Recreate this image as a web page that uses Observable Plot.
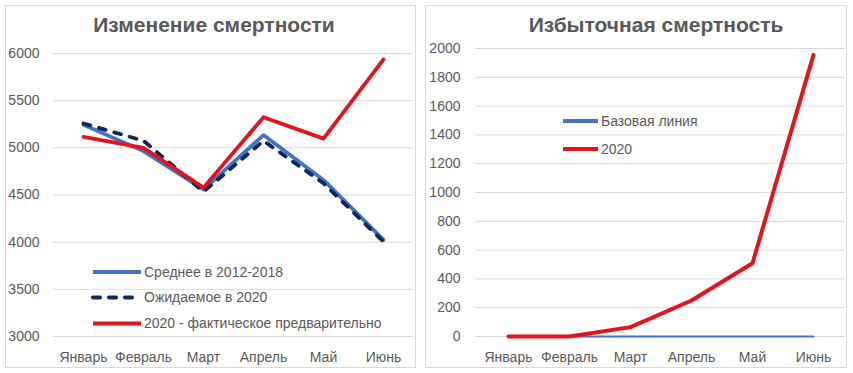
<!DOCTYPE html>
<html>
<head>
<meta charset="utf-8">
<script src="https://cdn.jsdelivr.net/npm/d3@7"></script>
<script src="https://cdn.jsdelivr.net/npm/@observablehq/plot@0.6"></script>
<style>
  html, body { margin: 0; padding: 0; background: #fff; }
  body { font-family: "Liberation Sans", Arial, sans-serif; }
  #wrap { position: relative; width: 853px; height: 373px; overflow: hidden; }
  .panel { position: absolute; top: 5px; height: 361px; border: 1px solid #d9d9d9; background: #fff; }
  .panel > svg { position: absolute; left: 0; top: 0; }
  .title { position: absolute; width: 400px; text-align: center; font-weight: bold; font-size: 21px; line-height: 21px; color: #595959; white-space: nowrap; }
  .legend { position: absolute; left: 0; top: 0; pointer-events: none; }
</style>
</head>
<body>
<div id="wrap">
  <div class="panel" id="p1" style="left:5px;width:409px;">
    <div class="title" style="left:8px;top:8px;">Изменение смертности</div>
  </div>
  <div class="panel" id="p2" style="left:425px;width:420px;">
    <div class="title" style="left:30px;top:8px;">Избыточная смертность</div>
  </div>
</div>
<script>
// ---- data ----
const months = ["Январь", "Февраль", "Март", "Апрель", "Май", "Июнь"];
const avg2012_2018 = [5245, 4965, 4560, 5135, 4660, 4025];
const expected2020 = [5258, 5075, 4535, 5075, 4625, 4005];
const actual2020 = [5115, 5000, 4578, 5325, 5098, 5937];
const baseline = [0, 0, 0, 0, 0, 0];
const excess2020 = [0, 0, 65, 250, 509, 1956];
const leftTicks = [3000, 3500, 4000, 4500, 5000, 5500, 6000];
const rightTicks = [0, 200, 400, 600, 800, 1000, 1200, 1400, 1600, 1800, 2000];
const leftSeries = ["Среднее в 2012-2018", "Ожидаемое в 2020", "2020 - фактическое предварительно"];
const rightSeries = ["Базовая линия", "2020"];

const BLUE = "#4472c4", NAVY = "#0b2a5b", RED = "#e3141b", GRAY = "#595959", GRID = "#d9d9d9";
const FONT = "'Liberation Sans', Arial, sans-serif";

const rows = (vals) => months.map((m, i) => ({month: m, value: vals[i]}));

const styleBase = {fontFamily: FONT, fontSize: "14px", color: GRAY, background: "transparent", overflow: "visible"};

// ---- left chart ----
const left = Plot.plot({
  width: 409, height: 361,
  marginLeft: 47, marginRight: 2, marginTop: 47, marginBottom: 31,
  style: styleBase,
  x: {type: "point", domain: months, padding: 0.5, label: null},
  y: {domain: [3000, 6000], label: null},
  marks: [
    Plot.gridY(leftTicks, {stroke: GRID, strokeOpacity: 1, strokeWidth: 1}),
    Plot.axisY(leftTicks, {tickSize: 0, tickPadding: 14, label: null, fill: GRAY, tickFormat: d => String(d)}),
    Plot.axisX({tickSize: 0, tickPadding: 16, label: null, fill: GRAY}),
    Plot.line(rows(avg2012_2018), {x: "month", y: "value", stroke: BLUE, strokeWidth: 3.8}),
    Plot.line(rows(expected2020), {x: "month", y: "value", stroke: NAVY, strokeWidth: 3.8, strokeDasharray: "7,9", strokeLinecap: "round"}),
    Plot.line(rows(actual2020), {x: "month", y: "value", stroke: RED, strokeWidth: 3.8})
  ]
});
document.getElementById("p1").appendChild(left);

// ---- right chart ----
const right = Plot.plot({
  width: 420, height: 361,
  marginLeft: 49, marginRight: 1, marginTop: 42, marginBottom: 31,
  style: styleBase,
  x: {type: "point", domain: months, padding: 0.5, label: null},
  y: {domain: [0, 2000], label: null},
  marks: [
    Plot.gridY(rightTicks, {stroke: GRID, strokeOpacity: 1, strokeWidth: 1}),
    Plot.axisY(rightTicks, {tickSize: 0, tickPadding: 15, label: null, fill: GRAY, tickFormat: d => String(d)}),
    Plot.axisX({tickSize: 0, tickPadding: 16, label: null, fill: GRAY}),
    Plot.line(rows(baseline), {x: "month", y: "value", stroke: BLUE, strokeWidth: 2}),
    Plot.line(rows(excess2020), {x: "month", y: "value", stroke: RED, strokeWidth: 4})
  ]
});
document.getElementById("p2").appendChild(right);

// ---- legends (HTML overlay SVGs) ----
function legend(panelId, names, styles, x0, x1, ys, w, h) {
  const svg = d3.select("#" + panelId).append("svg")
    .attr("class", "legend").attr("width", w).attr("height", h);
  names.forEach((name, i) => {
    const s = styles[i];
    svg.append("line").attr("x1", x0).attr("x2", x1).attr("y1", ys[i]).attr("y2", ys[i])
      .attr("stroke", s.stroke).attr("stroke-width", s.width)
      .attr("stroke-dasharray", s.dash || null).attr("stroke-linecap", s.cap || "butt");
    svg.append("text").attr("x", x1 + 3).attr("y", ys[i]).attr("dy", "0.35em")
      .attr("fill", GRAY).attr("font-family", FONT).attr("font-size", 14).text(name);
  });
}
legend("p1", leftSeries,
  [{stroke: BLUE, width: 4}, {stroke: NAVY, width: 4, dash: "7,9", cap: "round"}, {stroke: RED, width: 4}],
  87, 135, [266, 291.5, 317.5], 409, 361);
legend("p2", rightSeries,
  [{stroke: BLUE, width: 4}, {stroke: RED, width: 4}],
  137, 172, [115, 143], 420, 361);
</script>
</body>
</html>
